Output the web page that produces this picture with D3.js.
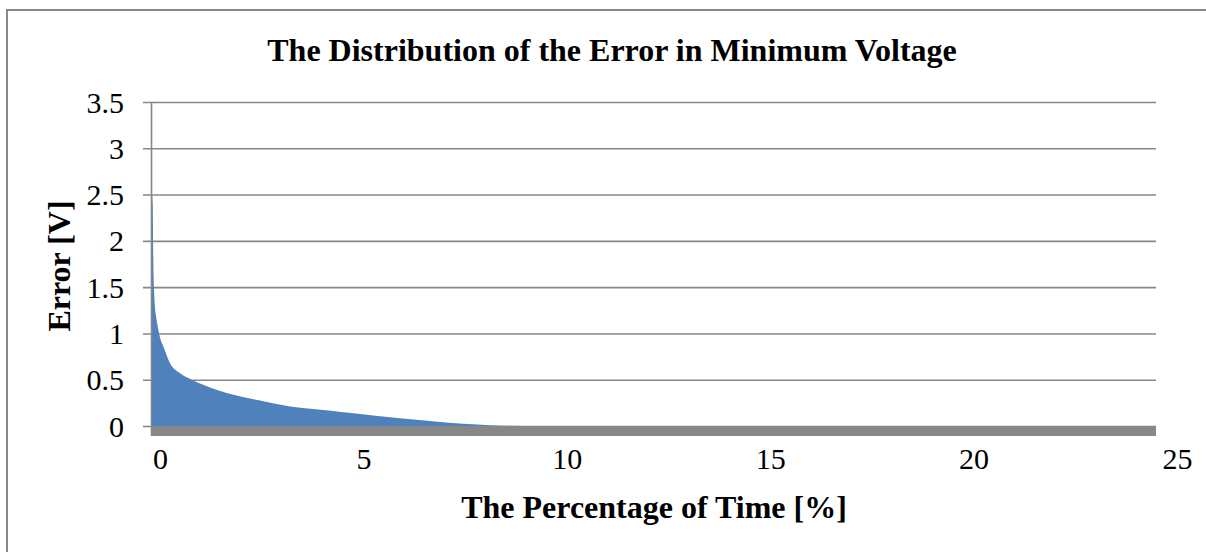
<!DOCTYPE html>
<html>
<head>
<meta charset="utf-8">
<script src="https://cdn.jsdelivr.net/npm/d3@7"></script>
<style>
  html, body { margin: 0; padding: 0; background: #fff; }
  svg { display: block; }
  text { font-family: "Liberation Serif", "Times New Roman", serif; fill: #000; }
</style>
</head>
<body>
<svg id="chart" width="1206" height="552"></svg>
<script>
// Percentage of time (sorted duration curve) and the error in minimum voltage
const timePercent = [0, 0.017, 0.033, 0.05, 0.1, 0.115, 0.2, 0.28, 0.44, 0.69, 0.98, 1.6, 2.6, 3.4, 4.4, 4.9, 6.1, 7.3, 8.0, 8.6, 9.5, 24.7];
const errorVolts  = [2.5, 2.4, 1.76, 1.47, 1.18, 1.14, 0.95, 0.86, 0.68, 0.57, 0.5, 0.39, 0.28, 0.21, 0.165, 0.14, 0.083, 0.036, 0.015, 0.003, 0, 0];

const yTicks = [0, 0.5, 1, 1.5, 2, 2.5, 3, 3.5];
const xTickLabels = [0, 5, 10, 15, 20, 25];

const svg = d3.select("#chart");
const grey = "#878787";

// outer chart border
svg.append("path")
  .attr("d", "M7,552 L7,10 L1206,10")
  .attr("fill", "none").attr("stroke", grey).attr("stroke-width", 2);

const plotLeft = 152, plotRight = 1156, plotTop = 102, plotBottom = 426;

const y = d3.scaleLinear().domain([0, 3.5]).range([plotBottom, plotTop]);
const xData = d3.scaleLinear().domain([0, 24.7]).range([plotLeft, plotRight]);
const xLabel = d3.scaleLinear().domain([0, 25]).range([160, 1177]);

// horizontal gridlines with short outer ticks
const gy = svg.append("g").attr("transform", `translate(${plotRight},0)`);
gy.call(d3.axisLeft(y).tickValues(yTicks).tickSize(plotRight - plotLeft + 9).tickFormat(""));
gy.select(".domain").remove();
gy.selectAll(".tick line").attr("stroke", grey).attr("stroke-width", 1.6);

// y tick labels
svg.append("g").selectAll("text").data(yTicks).join("text")
  .attr("x", 124).attr("y", d => y(d)).attr("dy", "0.35em")
  .attr("text-anchor", "end").attr("font-size", 30)
  .text(d3.format("~g"));

// filled error area
const area = d3.area().curve(d3.curveMonotoneX)
  .x((d, i) => xData(timePercent[i])).y0(y(0)).y1(d => y(d));
svg.append("path").datum(errorVolts)
  .attr("d", area).attr("fill", "#4f81bd");

// vertical axis line
svg.append("line")
  .attr("x1", plotLeft - 0.5).attr("x2", plotLeft - 0.5).attr("y1", plotTop).attr("y2", plotBottom + 10)
  .attr("stroke", grey).attr("stroke-width", 1.6);

// floor band along the zero line
svg.append("rect")
  .attr("x", xData(0) - 1).attr("y", y(0))
  .attr("width", xData(24.7) - xData(0) + 1).attr("height", 10)
  .attr("fill", grey);

// x tick labels
const gx = svg.append("g").attr("transform", "translate(0,442)");
gx.call(d3.axisBottom(xLabel).tickValues(xTickLabels).tickSize(0).tickPadding(6).tickFormat(d3.format("d")));
gx.select(".domain").remove();
gx.selectAll("text").attr("font-size", 30).attr("font-family", "Liberation Serif, Times New Roman, serif").attr("fill", "#000");

// titles
svg.append("text").attr("x", 612).attr("y", 61).attr("text-anchor", "middle")
  .attr("font-size", 32).attr("font-weight", "bold")
  .text("The Distribution of the Error in Minimum Voltage");
svg.append("text").attr("x", 654).attr("y", 518).attr("text-anchor", "middle")
  .attr("font-size", 32).attr("font-weight", "bold")
  .text("The Percentage of Time [%]");
svg.append("text").attr("transform", "translate(69.5,266) rotate(-90)").attr("text-anchor", "middle")
  .attr("font-size", 32).attr("font-weight", "bold")
  .text("Error [V]");
</script>
</body>
</html>
